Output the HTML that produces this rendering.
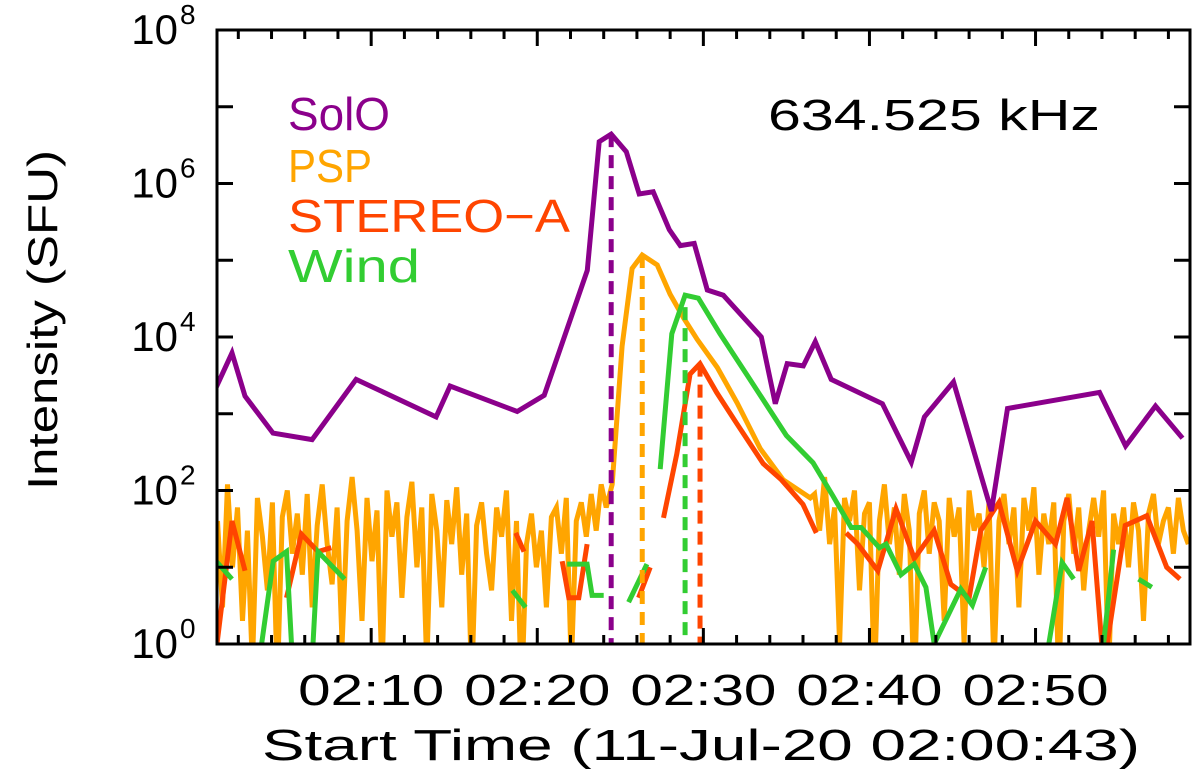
<!DOCTYPE html>
<html><head><meta charset="utf-8"><style>
html,body{margin:0;padding:0;background:#fff;}
svg{display:block;font-family:"Liberation Sans",sans-serif;}
</style></head><body>
<svg id="chart" width="1200" height="783" viewBox="0 0 1200 783" xmlns="http://www.w3.org/2000/svg">
<rect x="0" y="0" width="1200" height="783" fill="#fff"/>
<g id="plot"></g>
<g id="axes"></g>
<text x="0" y="0" transform="translate(57,320) rotate(-90)" text-anchor="middle" font-size="42" textLength="340" lengthAdjust="spacingAndGlyphs">Intensity (SFU)</text>
<text x="701" y="760" text-anchor="middle" font-size="44" textLength="878" lengthAdjust="spacingAndGlyphs">Start Time (11-Jul-20 02:00:43)</text>
<text x="768" y="130" font-size="44" textLength="332" lengthAdjust="spacingAndGlyphs">634.525 kHz</text>
<g font-size="46">
<text x="288" y="130" fill="#8B008B" textLength="102" lengthAdjust="spacingAndGlyphs">SolO</text>
<text x="288" y="182" fill="#FFA500" textLength="84" lengthAdjust="spacingAndGlyphs">PSP</text>
<text x="288" y="232" fill="#FF4500" textLength="282" lengthAdjust="spacingAndGlyphs">STEREO−A</text>
<text x="288" y="282" fill="#32CD32" textLength="132" lengthAdjust="spacingAndGlyphs">Wind</text>
</g>
</svg>
<script>
// time in minutes after 02:00
const xMin = 0.717, xMax = 59.3;
const yTicks = [0, 2, 4, 6, 8];
const xTickLabels = ["02:10","02:20","02:30","02:40","02:50"];
const xTickTimes = [10, 20, 30, 40, 50];

const soloT = [0.66,1.62,2.40,4.09,6.44,9.09,13.91,14.75,18.79,20.42,23.01,23.73,24.45,25.36,26.14,26.98,27.95,28.61,29.45,30.24,31.20,32.52,33.49,34.33,35.05,36.02,36.74,37.70,40.78,42.52,43.31,45.06,47.34,48.31,53.85,55.42,57.22,58.85];
const soloV = [2200,6200,1700,560,460,2800,910,2300,1070,1740,74000,3500000,4400000,2600000,730000,780000,250000,155000,166000,41000,35000,17000,10000,1350,4500,4200,8700,2800,1350,234,910,2600,54,1170,1900,380,1260,480];

const pspStart = 0.75, pspStep = 0.3;
const pspNoiseL = [40,3,120,10,60,2,30,0.5,80,25,5,70,0.3,45,100,15,50,8,90,3,35,120,20,6,60,1,40,150,30,2,80,12,55,0.4,100,25,70,4,45,130,10,60,0.5,90,30,3,75,20,110,8,50,0.3,35,70,15,5,60,25,100,2,40,0.2,20,50,10,30,3,45,60,15,80,0.5,40,70,25,90,30,120,60];
const pspPeakT = [24.51,25.11,25.71,26.32,27.22,28.0,28.79,29.63,30.84,32.04,33.43,34.81,36.44];
const pspPeakV = [120,7600,78000,117000,87000,36000,18000,9300,4000,1380,350,138,80];
const pspStart2 = 36.7;
const pspNoiseR = [90,30,150,20,60,1,80,40,100,5,50,70,0.3,40,120,20,60,8,90,30,0.2,50,100,15,70,40,2,80,25,60,1,100,30,50,10,70,0.5,40,90,20,60,3,80,30,110,8,50,20,70,0.3,40,90,15,60,5,30,80,25,100,0.4,50,20,60,10,70,30,2,50,90,20,40,60,15,80,30,20];

const stT = [0.66,1.62,2.40,null,4.9,5.8,6.8,7.6,null,18.7,19.2,null,21.5,21.9,22.5,23.0,null,26.1,26.8,null,27.6,28.4,29.2,29.8,30.8,32.0,33.6,34.7,36.0,36.8,null,38.6,39.3,40.5,41.6,42.7,43.9,44.9,46.0,46.7,47.8,48.9,50.0,51.2,51.9,52.6,53.4,54.1,55.4,56.7,57.9,58.7];
const stV = [0.8,40,9,null,4,27,16,18,null,28,16,null,12,4,4,20,null,4,10,null,44,300,3300,4500,1900,750,224,138,66,28,null,28,20,9,58,13,30,6,4,30,70,9,40,20,80,9,40,0.5,35,47,10,7];

const wdT = [0.66,1.62,null,3.4,4.1,4.9,5.2,null,6.5,6.8,8.4,null,18.5,19.3,null,21.8,23.0,23.3,24.0,null,25.5,26.6,null,27.4,28.1,28.9,29.7,31.0,32.8,35.0,36.6,37.8,38.9,39.5,40.6,41.0,41.9,42.7,43.4,43.9,45.5,46.2,47.0,null,50.8,51.6,52.3,null,54.1,54.7,null,56.2,57.0];
const wdV = [12,7,null,1,12,16,1,null,1,16,7,null,5,3,null,11,11,4.3,4.3,null,3.5,11,null,190,11000,35000,32000,11000,2800,520,230,85,33,33,18,20,8,11,5.5,1,5.2,3.2,10,null,1,11.5,7,null,1,17,null,7,5.5];

const L = 217, R = 1190, T = 30, B = 644;
function xs(m){ return L + (m - xMin) / (xMax - xMin) * (R - L); }
function ys(v){ const lv = Math.log10(Math.max(v, 1e-3)); return B - (lv - 0) / 8 * (B - T); }
const NS = "http://www.w3.org/2000/svg";
const plot = document.getElementById('plot');
const axes = document.getElementById('axes');

const clip = document.createElementNS(NS,'clipPath');
clip.setAttribute('id','pc');
const cr = document.createElementNS(NS,'rect');
cr.setAttribute('x',L); cr.setAttribute('y',T); cr.setAttribute('width',R-L); cr.setAttribute('height',B-T);
clip.appendChild(cr); plot.appendChild(clip);
plot.setAttribute('clip-path','url(#pc)');

function drawLine(ts, vs, color, name){
  let d = ""; let pen = false;
  for(let i=0;i<ts.length;i++){
    if(ts[i]===null || vs[i]===null){ pen=false; continue; }
    d += (pen?"L":"M") + xs(ts[i]).toFixed(1) + "," + ys(vs[i]).toFixed(1);
    pen = true;
  }
  const p = document.createElementNS(NS,'path');
  p.setAttribute('d', d);
  p.setAttribute('fill','none');
  p.setAttribute('stroke', color);
  p.setAttribute('stroke-width', 5);
  p.setAttribute('stroke-linejoin','miter');
  
  
  plot.appendChild(p);
}
function dashed(m, v, color, name){
  const l = document.createElementNS(NS,'line');
  l.setAttribute('x1', xs(m)); l.setAttribute('x2', xs(m));
  l.setAttribute('y1', ys(v)); l.setAttribute('y2', B);
  l.setAttribute('stroke', color); l.setAttribute('stroke-width', 5);
  l.setAttribute('stroke-dasharray','13 8');
  
  
  plot.appendChild(l);
}

const pspT = [], pspV = [];
pspNoiseL.forEach((v,i)=>{ pspT.push(pspStart + i*pspStep); pspV.push(v); });
pspPeakT.forEach((t,i)=>{ pspT.push(t); pspV.push(pspPeakV[i]); });
pspNoiseR.forEach((v,i)=>{ pspT.push(pspStart2 + i*pspStep); pspV.push(v); });
drawLine(pspT, pspV, '#FFA500', 'psp-series');
drawLine(stT, stV, '#FF4500', 'stereo-a-series');
drawLine(wdT, wdV, '#32CD32', 'wind-series');
drawLine(soloT, soloV, '#8B008B', 'solo-series');

const imax = a => a.reduce((bi,v,i)=> (v!==null && v>a[bi])?i:bi, 0);
let i;
i = imax(soloV); dashed(soloT[i], soloV[i], '#8B008B', 'solo-peak-marker');
i = imax(pspPeakV); dashed(pspPeakT[i], pspPeakV[i], '#FFA500', 'psp-peak-marker');
i = imax(wdV); dashed(wdT[i], wdV[i]*0.7, '#32CD32', 'wind-peak-marker');
i = imax(stV); dashed(stT[i], stV[i], '#FF4500', 'stereo-a-peak-marker');

const fr = document.createElementNS(NS,'rect');
fr.setAttribute('x',L); fr.setAttribute('y',T); fr.setAttribute('width',R-L); fr.setAttribute('height',B-T);
fr.setAttribute('fill','none'); fr.setAttribute('stroke','#000'); fr.setAttribute('stroke-width',3);


axes.appendChild(fr);
function tick(x1,y1,x2,y2,name){
  const l = document.createElementNS(NS,'line');
  l.setAttribute('x1',x1); l.setAttribute('y1',y1); l.setAttribute('x2',x2); l.setAttribute('y2',y2);
  l.setAttribute('stroke','#000'); l.setAttribute('stroke-width',3);
  
  
  axes.appendChild(l);
}
for(let m=2; m<xMax; m+=2){
  const major = (m % 10 === 0);
  const len = major ? 16 : 9;
  tick(xs(m),B,xs(m),B-len,'x-tick');
  tick(xs(m),T,xs(m),T+len,'x-tick-top');
}
for(let e=0;e<=8;e++){
  const y = B - e/8*(B-T);
  tick(L,y,L+16,y,'y-tick'); tick(R,y,R-16,y,'y-tick-right');
}
xTickLabels.forEach((lab,k)=>{
  const t = document.createElementNS(NS,'text');
  t.setAttribute('x', xs(xTickTimes[k])); t.setAttribute('y', 705);
  t.setAttribute('text-anchor','middle'); t.setAttribute('font-size', 44);
  t.setAttribute('textLength', 146); t.setAttribute('lengthAdjust','spacingAndGlyphs');
  t.textContent = lab;
  
  
  axes.appendChild(t);
});
yTicks.forEach(e=>{
  const y = B - e/8*(B-T);
  const t = document.createElementNS(NS,'text');
  t.setAttribute('x', 178); t.setAttribute('y', y + 14);
  t.setAttribute('text-anchor','end'); t.setAttribute('font-size', 42);
  t.textContent = "10";
  
  
  axes.appendChild(t);
  const s = document.createElementNS(NS,'text');
  s.setAttribute('x', 180); s.setAttribute('y', y - 6);
  s.setAttribute('font-size', 28);
  s.textContent = String(e);
  
  
  axes.appendChild(s);
});
</script>
</body></html>
